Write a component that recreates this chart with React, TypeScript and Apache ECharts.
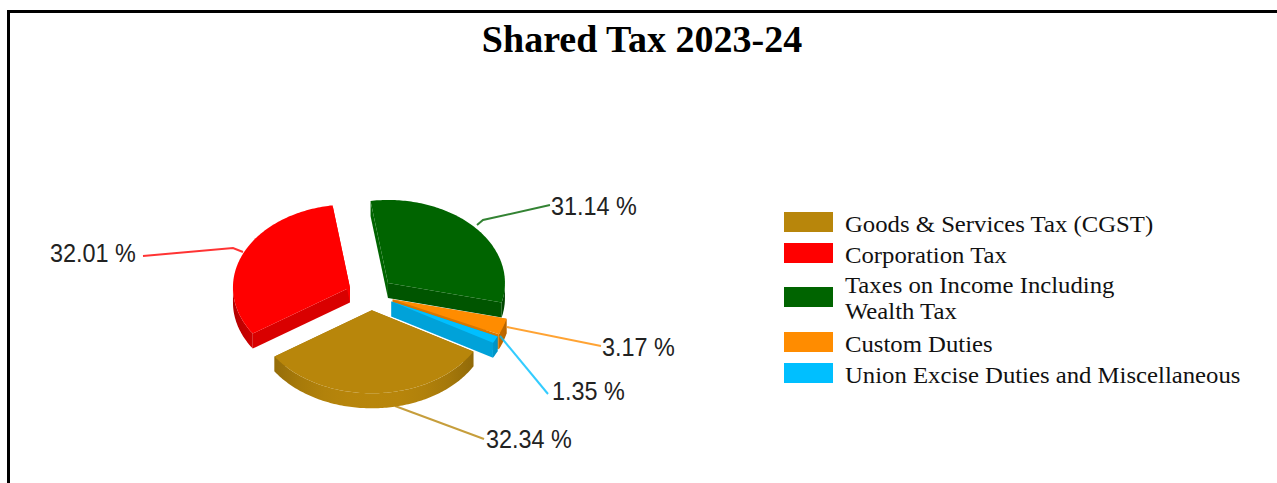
import React, { useEffect, useRef } from "react";
import * as echarts from "echarts";

const titleText = "Shared Tax 2023-24";
const categories = [
  "Goods & Services Tax (CGST)",
  "Corporation Tax",
  "Taxes on Income Including\nWealth Tax",
  "Custom Duties",
  "Union Excise Duties and Miscellaneous",
];
const shares = [32.34, 32.01, 31.14, 3.17, 1.35];
const colours = ["#B8860B", "#FF0000", "#006400", "#FF8C00", "#00BFFF"];

// Pie layout (pixels)
const CX = 371, CY = 294, RX = 117, RY = 83, DEPTH = 15, EXPLODE = 23, START_DEG = 29.8;
// Label layout
const leaderPaths: number[][][] = [
  [[395, 406], [484, 439]],
  [[243, 252], [233, 248], [143, 256]],
  [[477, 225], [483, 220], [550, 205]],
  [[507, 327], [601, 346]],
  [[500, 336], [548, 394]],
];
const labelPos: number[][] = [[486, 439], [50, 253], [551, 206], [602, 347], [552, 391]];
const legendRows = [212, 243, 287, 332, 363];
const legendTextY = [224, 255, [285, 311], 344, 375];
const LABEL_FONT = 26, LABEL_STRETCH = 0.9, LEGEND_FONT = 24, LEGEND_STRETCH = 1.03;

const shade = (hex: string, f: number) => {
  const n = parseInt(hex.slice(1), 16);
  const c = [(n >> 16) & 255, (n >> 8) & 255, n & 255].map((v) => Math.round(v * f));
  return `rgb(${c[0]},${c[1]},${c[2]})`;
};

const total = shares.reduce((a, b) => a + b, 0);
const rad = (d: number) => (d * Math.PI) / 180;

const renderSlice = (params: any, api: any) => {
  const i = params.dataIndex;
  const value = api.value(0);
  const before = shares.slice(0, i).reduce((a, b) => a + b, 0);
  const a0 = START_DEG + (before / total) * 360;
  const a1 = a0 + (value / total) * 360;
  const mid = rad((a0 + a1) / 2);
  const k = RY / RX;
  const ox = CX + EXPLODE * Math.cos(mid);
  const oy = CY + EXPLODE * k * Math.sin(mid);
  const rim = (deg: number, dz = 0) => [ox + RX * Math.cos(rad(deg)), oy + RY * Math.sin(rad(deg)) + dz];
  const base = colours[i];
  const order = Math.round(Math.sin(mid) * 100) + 200;

  const arc: number[] = [];
  for (let d = a0; d < a1; d += 1) arc.push(d);
  arc.push(a1);

  const children: any[] = [];
  // flat side walls: those on the far half of the pie take the face colour
  [a0, a1].forEach((d, j) => {
    children.push({
      type: "polygon",
      z2: order * 10 + j,
      shape: { points: [[ox, oy], rim(d), rim(d, DEPTH), [ox, oy + DEPTH]] },
      style: { fill: Math.sin(rad(d)) < 0 ? base : shade(base, 0.85) },
    });
  });
  // curved wall, only the part facing the viewer
  const front = arc.filter((d) => Math.sin(rad(d)) >= 0);
  if (front.length > 1) {
    const xs = front.map((d) => Math.cos(rad(d)));
    const minX = Math.min(...xs), maxX = Math.max(...xs);
    const stops = [0, 0.125, 0.25, 0.375, 0.5, 0.625, 0.75, 0.875, 1].map((t) => {
      const nx = minX + (maxX - minX) * t;
      return { offset: t, color: shade(base, 1 - 0.3 * Math.pow(Math.abs(nx), 2.5)) };
    });
    children.push({
      type: "polygon",
      z2: order * 10 + 3,
      shape: { points: [...front.map((d) => rim(d)), ...[...front].reverse().map((d) => rim(d, DEPTH))] },
      style: { fill: new echarts.graphic.LinearGradient(0, 0, 1, 0, stops) },
    });
  }
  // top face
  children.push({
    type: "polygon",
    z2: order * 10 + 5,
    shape: { points: [[ox, oy], ...arc.map((d) => rim(d))] },
    style: { fill: base },
  });
  // leader and label
  children.push({
    type: "polyline",
    z2: 9000,
    shape: { points: leaderPaths[i] },
    style: { stroke: base, lineWidth: 2, fill: "none", opacity: 0.8 },
  });
  children.push({
    type: "text",
    z2: 9001,
    x: labelPos[i][0],
    y: labelPos[i][1],
    scaleX: LABEL_STRETCH,
    style: {
      text: `${value.toFixed(2)} %`,
      fill: "#222",
      font: `${LABEL_FONT}px "Liberation Sans"`,
      textAlign: "left",
      textVerticalAlign: "middle",
      textBaseline: "middle",
    },
  });
  return { type: "group", children };
};

const legendGraphics = () => {
  const out: any[] = [
    { type: "rect", shape: { x: 7, y: 10, width: 1270, height: 3 }, style: { fill: "#000" } },
    { type: "rect", shape: { x: 7, y: 10, width: 3, height: 473 }, style: { fill: "#000" } },
  ];
  categories.forEach((name, i) => {
    out.push({
      type: "rect",
      shape: { x: 784, y: legendRows[i], width: 49, height: 20 },
      style: { fill: colours[i] },
    });
    const lines = name.split("\n");
    const ys = legendTextY[i];
    lines.forEach((line, j) => {
      out.push({
        type: "text",
        x: 845,
        y: Array.isArray(ys) ? ys[j] : ys,
        scaleX: LEGEND_STRETCH,
        style: {
          text: line,
          fill: "#111",
          font: `${LEGEND_FONT}px "Liberation Serif"`,
          textAlign: "left",
          textVerticalAlign: "middle",
          textBaseline: "middle",
        },
      });
    });
  });
  return out;
};

export default function App() {
  const ref = useRef<HTMLDivElement>(null);
  useEffect(() => {
    const chart = echarts.init(ref.current!, undefined, { renderer: "svg" });
    chart.setOption({
      animation: false,
      backgroundColor: "#fff",
      title: {
        text: titleText,
        left: 637,
        top: 15,
        textAlign: "center",
        textStyle: { fontFamily: "Liberation Serif", fontWeight: "bold", fontSize: 38, color: "#000" },
      },
      graphic: { elements: legendGraphics() },
      series: [
        {
          type: "custom",
          coordinateSystem: "none",
          silent: true,
          renderItem: renderSlice,
          data: shares.map((v, i) => ({ name: categories[i], value: [v] })),
        },
      ],
    });
    return () => chart.dispose();
  }, []);
  return (
    <div
      ref={ref}
      style={{ position: "absolute", left: 0, top: 0, width: 1277, height: 483 }}
    />
  );
}
